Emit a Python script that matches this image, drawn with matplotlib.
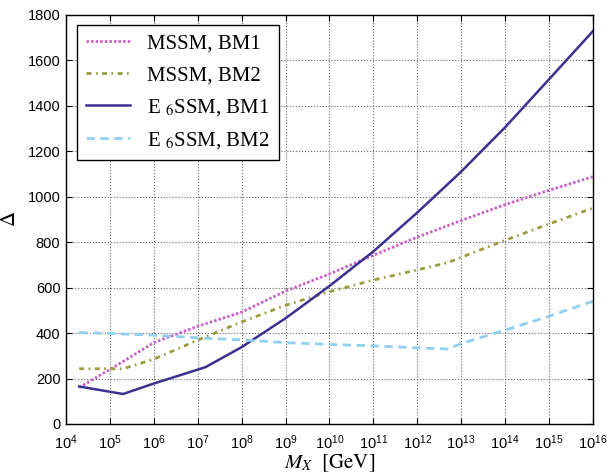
import matplotlib
matplotlib.use("Agg")
import matplotlib.pyplot as plt
import numpy as np

plt.rcParams['mathtext.fontset'] = 'stix'
plt.rcParams['font.family'] = ['Liberation Sans', 'DejaVu Sans']

# Data (x in GeV, y = fine tuning Delta)
mssm_bm1_x = [2e4, 2e5, 1e6, 1e7, 1e8, 1e9, 1e10, 1e11, 1e12, 1e13, 1e14, 1e15, 1e16]
mssm_bm1_y = [160, 275, 358, 430, 492, 585, 660, 742, 822, 895, 965, 1028, 1088]

mssm_bm2_x = [2e4, 2e5, 1e6, 1e7, 1e8, 1e9, 1e10, 1e11, 1e12, 5e12, 1e13, 1e14, 1e15, 1e16]
mssm_bm2_y = [243, 243, 285, 369, 449, 522, 582, 633, 678, 710, 733, 808, 880, 950]

e6_bm1_x = [2e4, 2e5, 1e6, 1.5e7, 1e8, 1e9, 1e10, 1e11, 1e12, 1e13, 1e14, 1e15, 1e16]
e6_bm1_y = [165, 132, 178, 250, 338, 465, 607, 759, 930, 1110, 1305, 1516, 1728]

e6_bm2_x = [2e4, 1e5, 1e6, 1e7, 1e8, 1e9, 1e10, 1e11, 1e12, 5e12, 1e13, 1e14, 1e15, 1e16]
e6_bm2_y = [402, 398, 391, 379, 370, 358, 350, 344, 335, 330, 354, 413, 474, 540]

labels = ["MSSM, BM1", "MSSM, BM2", r"E $_6$SSM, BM1", r"E $_6$SSM, BM2"]
xticks = [10.0**k for k in range(4, 17)]
yticks = list(range(0, 1801, 200))

fig = plt.figure(figsize=(6.07, 4.73), dpi=100)
ax = fig.add_axes([0.1087, 0.1036, 0.868, 0.865])

ax.plot(mssm_bm1_x, mssm_bm1_y, linestyle=(0, (0.9, 0.75)), color='#c95fc9', lw=2.0, label=labels[0])
ax.plot(mssm_bm2_x, mssm_bm2_y, linestyle=(0, (1.8, 1.6, 0.6, 1.6)), color='#9c9c3e', lw=2.0, label=labels[1])
ax.plot(e6_bm1_x, e6_bm1_y, linestyle='-', color='#3a3190', lw=1.8, label=labels[2])
ax.plot(e6_bm2_x, e6_bm2_y, linestyle=(0, (3.0, 2.0)), color='#8fd0f0', lw=2.0, label=labels[3])

ax.set_xscale('log')
ax.set_xlim(1e4, 1e16)
ax.set_ylim(0, 1800)
ax.set_xticks(xticks)
ax.set_yticks(yticks)
ax.xaxis.set_minor_locator(matplotlib.ticker.NullLocator())
ax.tick_params(direction='in', top=True, right=True, length=4, labelsize=10.5)
ax.tick_params(axis='y', pad=4)
ax.tick_params(axis='x', pad=7)
ax.grid(True, linestyle=':', color='#666666', lw=0.8)
for s in ax.spines.values():
    s.set_linewidth(1.0)

ax.set_xlabel(r"$M_X\ \ \mathrm{[GeV]}$", fontsize=15, labelpad=0)
ax.set_ylabel(r"$\Delta$", fontsize=15, labelpad=6)

leg = ax.legend(loc='upper left', bbox_to_anchor=(0.021, 0.976), borderaxespad=0,
                fancybox=False, edgecolor='black', framealpha=1.0, handlelength=2.1,
                prop={'family': 'Liberation Serif', 'size': 15}, labelspacing=0.57,
                borderpad=0.45, handletextpad=0.8)
leg.get_frame().set_linewidth(1.0)

fig.savefig("out.png", dpi=100)
